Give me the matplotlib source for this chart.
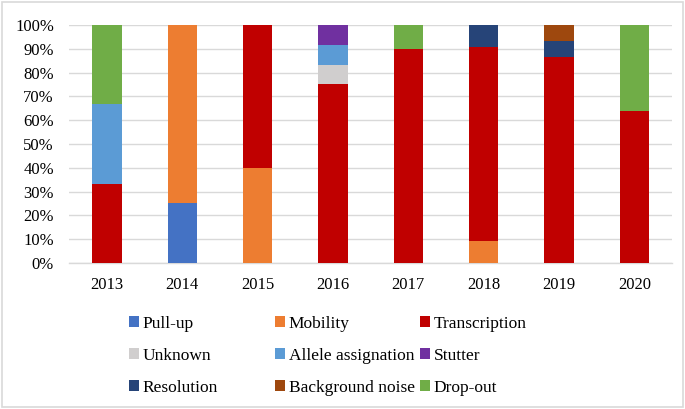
import matplotlib
matplotlib.use("Agg")
import matplotlib.pyplot as plt
from matplotlib.patches import Rectangle, Patch
import numpy as np

years = ["2013", "2014", "2015", "2016", "2017", "2018", "2019", "2020"]
series_names = ["Pull-up", "Mobility", "Transcription", "Unknown", "Allele assignation",
                "Stutter", "Resolution", "Background noise", "Drop-out"]
pull_up        = [0, 25, 0, 0, 0, 0, 0, 0]
mobility       = [0, 75, 40, 0, 0, 9.09, 0, 0]
transcription  = [33.33, 0, 60, 75, 90, 81.82, 86.67, 63.64]
unknown        = [0, 0, 0, 8.33, 0, 0, 0, 0]
allele         = [33.33, 0, 0, 8.33, 0, 0, 0, 0]
stutter        = [0, 0, 0, 8.34, 0, 0, 0, 0]
resolution     = [0, 0, 0, 0, 0, 9.09, 6.67, 0]
background     = [0, 0, 0, 0, 0, 0, 6.66, 0]
dropout        = [33.34, 0, 0, 0, 10, 0, 0, 36.36]
colors = ["#4472C4", "#ED7D31", "#C00000", "#D0CECE", "#5B9BD5",
          "#7030A0", "#264478", "#9E480E", "#70AD47"]
series = [pull_up, mobility, transcription, unknown, allele, stutter,
          resolution, background, dropout]

plt.rcParams['font.family'] = ['Liberation Serif', 'DejaVu Serif']

fig = plt.figure(figsize=(6.85, 4.09), dpi=100)
ax = fig.add_axes([0.101, 0.357, 0.880, 0.582])

x = np.arange(len(years))
bottom = np.zeros(len(years))
for vals, col, name in zip(series, colors, series_names):
    v = np.array(vals, dtype=float)
    ax.bar(x, v, 0.39, bottom=bottom, color=col, label=name, zorder=3)
    bottom += v

ax.set_ylim(0, 100)
ax.set_xlim(-0.5, len(years) - 0.5)
ax.set_yticks(np.arange(0, 101, 10))
ax.set_yticklabels([f"{t}%" for t in range(0, 101, 10)], fontsize=12)
ax.set_xticks(x)
ax.set_xticklabels(years, fontsize=12)
ax.tick_params(axis='y', length=0, pad=11)
ax.tick_params(axis='x', length=0, pad=10)
ax.yaxis.grid(True, color="#D9D9D9", linewidth=1, zorder=0)
for s in ["top", "right", "left"]:
    ax.spines[s].set_visible(False)
ax.spines["bottom"].set_color("#D9D9D9")
ax.spines["bottom"].set_linewidth(1)

# legend: three equal-width columns, filled row-wise
handles = [Patch(facecolor=c, label=n) for c, n in zip(colors, series_names)]
col_x = [129 / 685, 275 / 685, 420 / 685]
for ci in range(3):
    idx = [ci, ci + 3, ci + 6]
    leg = fig.legend([handles[i] for i in idx], [series_names[i] for i in idx],
                     ncol=1, loc="upper left", bbox_to_anchor=(col_x[ci], 0.228),
                     frameon=False, fontsize=12.5, handlelength=0.55, handleheight=0.55,
                     handletextpad=0.25, labelspacing=0.92, borderpad=0,
                     borderaxespad=0)

fig.patches.append(Rectangle((0.003, 0.004), 0.994, 0.992, transform=fig.transFigure,
                             fill=False, edgecolor="#D9D9D9", linewidth=1.2))

fig.savefig("out.png", dpi=100)
